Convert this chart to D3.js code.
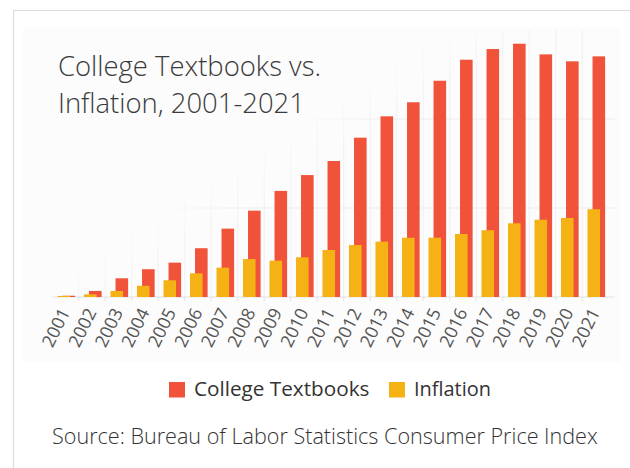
<!DOCTYPE html>
<html><head><meta charset="utf-8">
<script src="https://cdn.jsdelivr.net/npm/d3@7"></script>
<style>html,body{margin:0;padding:0;background:#fff;}svg{display:block;font-family:"Open Sans",Lato,sans-serif;}</style>
</head><body>
<svg id="c" width="630" height="468"></svg>
<script>
const years = ["2001","2002","2003","2004","2005","2006","2007","2008","2009","2010","2011","2012","2013","2014","2015","2016","2017","2018","2019","2020","2021"];
const textbooks = [0.7,3.4,10.5,15.6,19.3,27.4,38.4,48.5,59.6,68.5,76.4,89.5,101.5,109.4,121.5,133.3,139.3,142.3,136.3,132.4,135.2];
const inflation = [0.6,1.5,3.4,6.3,9.4,13.3,16.5,21.3,20.4,22.3,26.4,29.2,31.1,33.3,33.3,35.4,37.5,41.4,43.4,44.4,49.3];
const yTicks = [50,100];
const seriesNames = ["College Textbooks","Inflation"];
const colors = {"College Textbooks":"#F1523A","Inflation":"#F4B214"};

const svg = d3.select("#c");
const W = 630, H = 468;

function fit(sel, target){
  const base = +sel.attr("font-size");
  const len = sel.node().getComputedTextLength();
  if (len>0) sel.attr("font-size", base*target/len);
  return sel;
}

svg.append("rect").attr("x",23).attr("y",28).attr("width",597).attr("height",334).attr("fill","#fcfcfc");
svg.append("path").attr("d",`M13.5,${H} V10.5 H${W}`).attr("fill","none").attr("stroke","#dcdcdc").attr("stroke-width",1.2);

const x = d3.scaleBand().domain(years).range([52.2,608.7]);
const y = d3.scaleLinear().domain([0,150]).range([297,30]);
const bw = x.bandwidth();

const defs = svg.append("defs");
const n = [0.536,0.844], p0=[270,166];
const grad = defs.append("linearGradient").attr("id","gf").attr("gradientUnits","userSpaceOnUse")
  .attr("x1",p0[0]-25*n[0]).attr("y1",p0[1]-25*n[1]).attr("x2",p0[0]+30*n[0]).attr("y2",p0[1]+30*n[1]);
grad.append("stop").attr("offset",0).attr("stop-color","#fff").attr("stop-opacity",0);
grad.append("stop").attr("offset",1).attr("stop-color","#fff").attr("stop-opacity",1);
defs.append("mask").attr("id","gm").append("rect").attr("x",0).attr("y",0).attr("width",W).attr("height",H).attr("fill","url(#gf)");

const grid = svg.append("g").attr("mask","url(#gm)");
grid.selectAll("line.h").data(yTicks).join("line").attr("class","h")
  .attr("x1",52).attr("x2",615).attr("y1",d=>y(d)).attr("y2",d=>y(d))
  .attr("stroke","#ececec").attr("stroke-width",1.2);
grid.selectAll("line.v").data(years.slice(1)).join("line").attr("class","v")
  .attr("x1",d=>x(d)).attr("x2",d=>x(d)).attr("y1",y(0)).attr("y2",y(150))
  .attr("stroke","#f0f0f0").attr("stroke-width",1);

svg.append("line").attr("x1",52).attr("x2",615).attr("y1",y(0)).attr("y2",y(0)).attr("stroke","#e2e2e2").attr("stroke-width",1.2);
svg.selectAll("line.t").data(years.slice(1)).join("line").attr("class","t")
  .attr("x1",d=>x(d)).attr("x2",d=>x(d)).attr("y1",y(0)).attr("y2",y(0)+4)
  .attr("stroke","#e2e2e2").attr("stroke-width",1);

svg.append("g").selectAll("rect").data(years).join("rect")
  .attr("x",d=>x(d)+bw*0.39).attr("width",bw*0.475)
  .attr("y",(d,i)=>y(textbooks[i])).attr("height",(d,i)=>y(0)-y(textbooks[i]))
  .attr("fill",colors["College Textbooks"]);
svg.append("g").selectAll("rect").data(years).join("rect")
  .attr("x",d=>x(d)+bw*0.2).attr("width",bw*0.475)
  .attr("y",(d,i)=>y(inflation[i])).attr("height",(d,i)=>y(0)-y(inflation[i]))
  .attr("fill",colors["Inflation"]);

svg.append("g").selectAll("text").data(years).join("text")
  .attr("transform",d=>`translate(${x(d)+bw/2+5},${y(0)+15}) rotate(-64)`)
  .attr("text-anchor","end").attr("font-size",17.8).attr("fill","#555").text(d=>d);

const title = svg.append("text").attr("x",58).attr("font-size",26).attr("font-weight",300).attr("fill","#3a3a3a");
title.append("tspan").attr("x",58).attr("y",76).text("College Textbooks vs.");
title.append("tspan").attr("x",58).attr("y",113).text("Inflation, 2001-2021");
{
  const l1 = title.select("tspan").node().getComputedTextLength();
  title.attr("font-size", 26*263/l1);
}

const lg = svg.append("g");
const lx = [169,389];
const lw = [175.5,77];
seriesNames.forEach((s,i)=>{
  lg.append("rect").attr("x",lx[i]).attr("y",382).attr("width",16).attr("height",15.5).attr("fill",colors[s]);
  const t = lg.append("text").attr("x",lx[i]+25).attr("y",396).attr("font-size",18.5).attr("fill","#333").text(s);
  fit(t, lw[i]);
});

fit(svg.append("text").attr("x",52).attr("y",444).attr("font-size",19).attr("font-weight",300).attr("fill","#333")
  .text("Source: Bureau of Labor Statistics Consumer Price Index"), 546);
</script>
</body></html>
